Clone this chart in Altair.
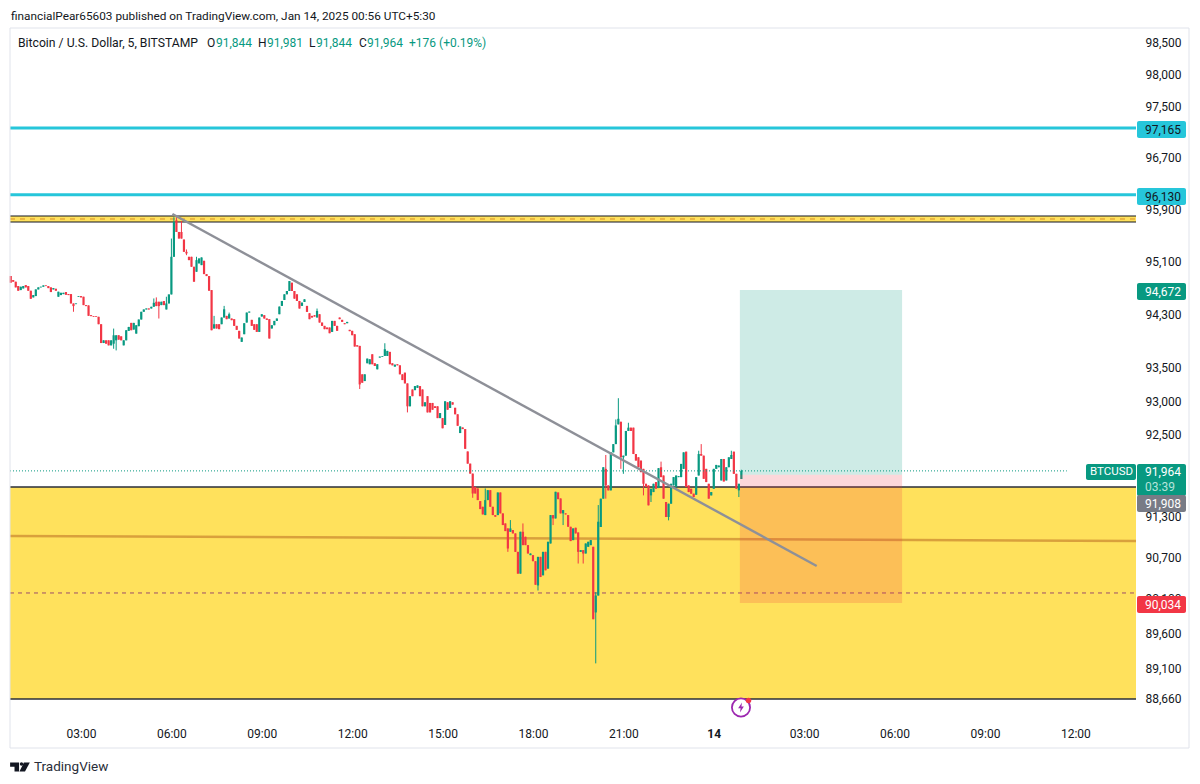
import altair as alt
import pandas as pd

# ---- values ----
opens = [
94885,94823,94798,94732,94671,94696,94747,94732,94661,94560,
94580,94681,94712,94722,94742,94732,94712,94681,94691,94570,
94595,94610,94641,94610,94610,94468,94458,94570,94580,94570,
94443,94438,94291,94276,94276,94266,94154,93870,93911,93911,
93835,93860,93911,93987,93971,93835,93911,94053,94174,94073,
94012,94124,94225,94342,94377,94392,94392,94418,94494,94494,
94443,94504,94377,94468,94605,95178,95736,95558,95558,95442,
95254,95178,95178,95026,94950,95077,95051,95117,94914,94884,
94671,94089,94154,94154,94154,94255,94280,94240,94240,94230,
94129,94054,93888,94003,94179,94330,94220,94154,94154,94038,
94270,94290,94240,94230,94089,94139,94204,94305,94431,94521,
94607,94657,94783,94657,94607,94506,94431,94491,94431,94320,
94280,94290,94255,94305,94179,94129,94104,94104,94038,94204,
94129,94255,94220,94169,94169,94069,94054,94003,93837,93827,
93400,93299,93566,93551,93701,93566,93475,93651,93661,93676,
93676,93737,93566,93515,93551,93535,93400,93425,93264,92922,
93173,93163,93198,93224,93173,92922,93073,92972,92972,92922,
92922,92746,92746,92645,92982,92897,92982,92900,92803,92524,
92607,92583,92251,92071,91924,91729,91705,91519,91436,91314,
91534,91680,91436,91314,91314,91646,91339,91192,91119,91070,
91095,91046,90777,90460,91070,90997,90875,90729,90729,90641,
90289,90704,90436,90777,90533,90899,91314,91265,91646,91558,
91339,91339,91314,91143,90948,91129,91060,90777,90802,90753,
90851,90875,90851,89899,90143,91140,91555,91994,91750,91677,
92238,92360,92653,92692,92165,92189,92555,92604,92604,92213,
92165,92116,91994,91774,91750,91603,91652,91799,91711,92018,
91896,91506,91286,91481,91750,91725,91872,91872,91994,92248,
91750,91701,91628,91613,91896,92213,92189,91994,91774,91603,
91701,91994,92018,91823,92140,91823,92018,92140,92248,91921,91677,91844,
]
closes = [
94783,94798,94712,94661,94722,94732,94712,94661,94539,94595,
94681,94712,94722,94742,94732,94701,94641,94701,94661,94646,
94630,94630,94600,94595,94468,94428,94468,94580,94560,94443,
94428,94281,94276,94266,94266,94154,93870,93911,93860,93835,
93911,93987,93987,93921,93911,93911,94063,94113,94063,94174,
94139,94225,94342,94377,94392,94377,94418,94478,94428,94428,
94494,94443,94468,94605,95178,95710,95558,95457,95457,95254,
95229,95127,95026,94798,95127,95153,95168,94914,94884,94661,
94063,94154,94089,94079,94255,94380,94230,94305,94215,94129,
94069,93938,93953,94169,94330,94345,94129,94069,94038,94255,
94305,94240,94220,93938,94139,94204,94240,94421,94506,94607,
94657,94808,94657,94541,94506,94391,94481,94531,94340,94230,
94255,94270,94355,94179,94129,94079,94079,94018,94204,94129,
94054,94230,94189,94154,94189,94049,93988,93817,93817,93249,
93274,93400,93636,93626,93551,93525,93551,93666,93671,93777,
93752,93551,93535,93545,93535,93400,93314,93264,92922,93073,
93073,93224,93234,93073,92922,92982,92831,92831,92871,92897,
92746,92821,92595,92997,92871,92997,92947,92803,92632,92622,
92583,92290,92071,91924,91631,91631,91534,91402,91324,91534,
91680,91436,91314,91290,91646,91339,91168,91080,90826,91119,
91046,90777,90460,91070,90875,90875,90753,90753,90641,90299,
90704,90411,90777,90509,90924,91314,91265,91656,91548,91339,
91387,91324,91143,90934,91119,91046,90777,90802,90753,90899,
90924,90948,89801,90143,91217,91555,92018,91750,91677,92238,
92360,92638,92736,92165,92189,92555,92604,92555,92213,92116,
92018,91945,91774,91725,91457,91701,91774,91701,92004,91872,
91555,91286,91481,91774,91872,91896,91886,92067,92238,91725,
91652,91628,91579,91872,92213,92189,91847,91799,91555,91652,
91994,92052,92043,92140,91808,92018,92165,92199,91921,91701,91774,91964,
]
# long wicks, by bar number
high_wicks = {41:94088,57:94544,58:94560,62:94570,64:95457,65:95786,66:95786,68:95726,70:95290,
              74:95178,81:94280,85:94431,87:94330,122:94391,149:93867,189:91705,199:91241,204:91192,
              233:90192,234:91461,237:92199,241:92726,242:93043,246:92677,259:92101,274:92262,
              275:92360,287:92262,291:91981}
low_wicks = {25:94342,41:93784,42:93759,59:94240,70:95203,139:93180,158:92831,184:91568,198:90777,
             210:90216,216:91168,220:91168,226:90607,228:90607,233:89167,237:91555,243:91994,
             244:91921,252:91603,255:91506,262:91237,290:91579}

axis_prices = [98500,98000,97500,96700,95900,95100,94300,93500,93000,92500,91300,90700,90100,89600,89100,88660]
axis_times = [180,360,540,720,900,1080,1260,1440,1620,1800,1980,2160]   # minutes after Jan 13 00:00
first_bar_minute = 40
bar_minutes = 5

line_r1, line_r2 = 97165, 96130
band_top, band_mid, band_bottom = 95803, 95757, 95711
zone_top, zone_bottom = 91727, 88660
target, entry, stop = 94672, 91908, 90034
last_close = 91964
dashed_level = 90180
orange_start, orange_end = 91008, 90936
trend_t = [362, 1645]
trend_p = [95833, 90572]
pos_t = [1492, 1815]

# ---- layout ----
X0, Y0, W, H = 10, 28, 1126, 690
T_MIN, T_MAX = 38.6, 2280.8
P_MIN, P_MAX = 88389, 98737
GREEN, RED = "#089981", "#F23645"
CYAN, YELLOW = "#26C6DA", "#FFE15C"
INK = "#131722"
FONT = "Roboto"

xs = alt.Scale(domain=[T_MIN, T_MAX], nice=False, zero=False)
ys = alt.Scale(type="log", domain=[P_MIN, P_MAX], nice=False, zero=False)
x_axis = alt.Axis(
    values=axis_times, grid=False, domain=False, ticks=False, labelPadding=10,
    labelFont=FONT, labelFontSize=12, labelColor=INK, labelFlush=False, labelOverlap=False,
    labelFontWeight=alt.expr("datum.value==1440?'bold':'normal'"),
    labelExpr="datum.value==1440?'14':((floor(datum.value/60)%24<10?'0':'')+(floor(datum.value/60)%24)+':00')")
y_axis = alt.Axis(
    values=axis_prices, orient="right", grid=False, domain=False, ticks=False, labelPadding=9,
    labelFont=FONT, labelFontSize=12, labelColor=INK, labelOverlap=False, labelFlush=False,
    format=",")
def X(f): return alt.X(f, type="quantitative", scale=xs, axis=x_axis, title=None)
def Y(f): return alt.Y(f, type="quantitative", scale=ys, axis=y_axis, title=None)

rows = []
for i, (o, c) in enumerate(zip(opens, closes)):
    rows.append(dict(t=first_bar_minute + i * bar_minutes, o=o, c=c,
                     h=high_wicks.get(i, max(o, c)), l=low_wicks.get(i, min(o, c)),
                     d="up" if c >= o else "down"))
bars = pd.DataFrame(rows)
dscale = alt.Scale(domain=["up", "down"], range=[GREEN, RED])

blank = alt.Data(values=[{"a": 1}])
layers = []

def zone(t1, t2, p1, p2, color, opacity=1.0):
    df = pd.DataFrame([dict(t1=t1, t2=t2, p1=p1, p2=p2)])
    return alt.Chart(df).mark_rect(color=color, opacity=opacity).encode(
        x=X("t1"), x2="t2", y=Y("p1"), y2="p2")

def level(p1, p2, color, width, dash=None, t1=T_MIN, t2=T_MAX):
    df = pd.DataFrame([dict(t=t1, p=p1), dict(t=t2, p=p2)])
    kw = dict(strokeDash=dash) if dash else {}
    return alt.Chart(df).mark_line(color=color, strokeWidth=width, clip=True, **kw).encode(
        x=X("t"), y=Y("p"))

def text(s, px, py, color=INK, size=12, align="left", weight="normal"):
    return alt.Chart(blank).mark_text(text=s, color=color, fontSize=size, align=align, font=FONT,
                                      fontWeight=weight, baseline="middle").encode(
        x=alt.value(px - X0), y=alt.value(py - Y0))

def box(x1, x2, y1, y2, color, radius=2):
    return alt.Chart(blank).mark_rect(color=color, cornerRadius=radius).encode(
        x=alt.value(x1 - X0), x2=alt.value(x2 - X0), y=alt.value(y1 - Y0), y2=alt.value(y2 - Y0))

def frame(x1, x2, y1, y2, color="#E0E3EB"):
    return alt.Chart(blank).mark_rule(color=color, strokeWidth=1).encode(
        x=alt.value(x1 - X0), x2=alt.value(x2 - X0), y=alt.value(y1 - Y0), y2=alt.value(y2 - Y0))

def glyph(path, size, color, px, py):
    return alt.Chart(blank).mark_point(shape=path, size=size, fill=color, filled=True, opacity=1, strokeWidth=0).encode(
        x=alt.value(px - X0), y=alt.value(py - Y0))

layers += [
    zone(T_MIN, T_MAX, zone_top, zone_bottom, YELLOW),
    zone(T_MIN, T_MAX, band_top, band_bottom, YELLOW),
    level(band_top, band_top, INK, 1.2),
    level(band_bottom, band_bottom, INK, 1.2),
    level(band_mid, band_mid, "#D68A2B", 1, [5, 5]),
    level(zone_top, zone_top, "#2A2E39", 1.5),
    level(zone_bottom, zone_bottom, "#2A2E39", 1.5),
    level(orange_start, orange_end, "#D9A03C", 2.5),
    level(dashed_level, dashed_level, "#9C4D6A", 1, [4, 4]),
    level(line_r1, line_r1, CYAN, 3),
    level(line_r2, line_r2, CYAN, 3),
]

candle = alt.Chart(bars)
layers += [
    candle.mark_rule(strokeWidth=1.0).encode(
        x=X("t"), y=Y("h"), y2="l", color=alt.Color("d:N", scale=dscale, legend=None)),
    candle.mark_rule(strokeWidth=2.2).encode(
        x=X("t"), y=Y("o"), y2="c", color=alt.Color("d:N", scale=dscale, legend=None)),
    zone(pos_t[0], pos_t[1], target, entry, GREEN, 0.2),
    zone(pos_t[0], pos_t[1], entry, stop, RED, 0.2),
    level(last_close, last_close, GREEN, 1, [1, 2], T_MIN, 2143),
]

trend = pd.DataFrame({"t": trend_t, "p": trend_p})
layers.append(alt.Chart(trend).mark_line(color="#8E9098", strokeWidth=2.4).encode(x=X("t"), y=Y("p")))

# price tags
layers += [
    box(1137, 1186, 121, 138, CYAN), text("97,165", 1145, 129.5, INK),
    box(1137, 1186, 188, 205, CYAN), text("96,130", 1145, 196.5, INK),
    box(1137, 1186, 283, 300, GREEN), text("94,672", 1145, 291.5, "#FFFFFF"),
    box(1086, 1136, 464, 480, GREEN), text("BTCUSD", 1090, 472, "#FFFFFF", 11.5),
    box(1137, 1186, 464, 496, GREEN), text("91,964", 1145, 472, "#FFFFFF"),
    text("03:39", 1145, 487, "#B5E3DA"),
    box(1137, 1186, 495, 512, "#787B86"), text("91,908", 1145, 504, "#FFFFFF"),
    box(1137, 1186, 596, 613, RED), text("90,034", 1145, 604.5, "#FFFFFF"),
]

# header
layers += [
    text("financialPear65603 published on TradingView.com, Jan 14, 2025 00:56 UTC+5:30", 11, 15.5, INK, 11.8),
    text("Bitcoin / U.S. Dollar, 5, BITSTAMP", 18, 43, INK, 12.2),
    text("O", 207, 43), text("91,844", 216, 43, GREEN),
    text("H", 258, 43), text("91,981", 267, 43, GREEN),
    text("L", 309, 43), text("91,844", 316, 43, GREEN),
    text("C", 359, 43), text("91,964", 367, 43, GREEN),
    text("+176 (+0.19%)", 409, 43, GREEN),
    text("TradingView", 34, 767, "#2A2E39", 13.5),
]

# frame
layers += [
    frame(10, 10, 28, 748), frame(10, 1189, 748, 748),
    frame(1189, 1189, 28, 748), frame(10, 1189, 28, 28),
]

# event marker and logo
layers += [
    alt.Chart(blank).mark_point(shape="circle", size=330, fill="#FFFFFF", filled=True, stroke="#9C27B0",
                                strokeWidth=1.8, opacity=1).encode(
        x=alt.value(741 - X0), y=alt.value(707.5 - Y0)),
    glyph("M0.1,-0.5 L-0.28,0.08 L-0.04,0.08 L-0.1,0.5 L0.28,-0.1 L0.04,-0.1 Z", 420, "#9C27B0", 741, 707.5),
    glyph("circle", 30, RED, 748.5, 700.5),
    glyph("M-0.5,-0.32 L0.15,-0.32 L0.15,0.32 L-0.18,0.32 L-0.18,-0.02 L-0.5,-0.02 Z", 760, INK, 17, 767),
    glyph("M0.5,-0.32 L0.93,-0.32 L0.58,0.32 L0.18,0.32 Z", 760, INK, 17, 767),
    glyph("circle", 12, INK, 21.5, 764),
]

chart = alt.layer(*layers).resolve_scale(x="shared", y="shared").properties(
    width=W, height=H,
    autosize=alt.AutoSizeParams(type="none"),
    padding={"left": 2, "top": 20, "right": 56, "bottom": 60},
    background="#FFFFFF",
).configure_view(stroke=None)

chart.save("out.html", embed_options={"renderer": "svg", "actions": False})
